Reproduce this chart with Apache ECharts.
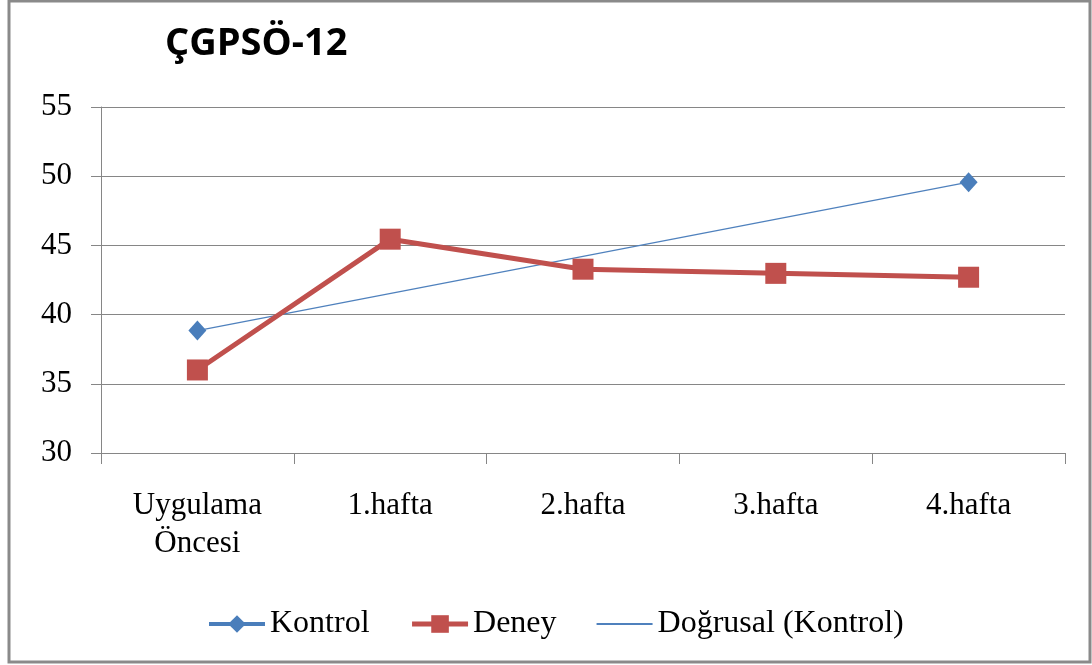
<!DOCTYPE html>
<html>
<head>
<meta charset="utf-8">
<script src="https://cdn.jsdelivr.net/npm/echarts@6/dist/echarts.min.js"></script>
<style>
  html, body { margin: 0; padding: 0; background: #fff; }
  #chart { width: 1092px; height: 665px; }
</style>
</head>
<body>
<div id="chart"></div>
<script>
const categories = ["Uygulama\nÖncesi", "1.hafta", "2.hafta", "3.hafta", "4.hafta"];
const kontrol = [38.85, null, null, null, 49.57];
const deney = [36.0, 45.45, 43.28, 42.98, 42.7];
const yTicks = { min: 30, max: 55, interval: 5 };

const serif = "'Liberation Serif', 'DejaVu Serif', serif";
const gridColor = "#868686";
const blue = "#4A7EBB";
const red = "#C0504D";
const trendBlue = "#4F81BD";

const chart = echarts.init(document.getElementById("chart"));

const option = {
  animation: false,
  backgroundColor: "#fff",
  title: {
    text: "ÇGPSÖ-12",
    left: 160,
    top: 20,
    textStyle: {
      fontFamily: "'Open Sans', 'Noto Sans', sans-serif",
      fontWeight: "bold",
      fontSize: 38,
      color: "#000"
    }
  },
  graphic: [
    {
      type: "rect",
      shape: { x: 9, y: 1, width: 1081, height: 661 },
      style: { fill: "none", stroke: "#8a8a8a", lineWidth: 3 },
      silent: true
    }
  ],
  legend: {
    left: 202,
    top: 603,
    itemWidth: 56,
    itemHeight: 22,
    itemGap: 40,
    textStyle: { fontFamily: serif, fontSize: 32, color: "#000" },
    data: [
      { name: "Kontrol", lineStyle: { width: 4 } },
      { name: "Deney", lineStyle: { width: 5 } },
      {
        name: "Doğrusal (Kontrol)",
        icon: "path://M0,10 L56,10 L56,12 L0,12 Z",
        itemStyle: { color: trendBlue }
      }
    ]
  },
  grid: {
    left: 101,
    right: 27,
    top: 107,
    bottom: 212,
    containLabel: false
  },
  xAxis: {
    type: "category",
    data: categories,
    boundaryGap: true,
    axisLine: { lineStyle: { color: gridColor, width: 1 } },
    axisTick: { show: true, length: 11, lineStyle: { color: gridColor } },
    axisLabel: {
      margin: 34,
      fontFamily: serif,
      fontSize: 31,
      lineHeight: 38,
      color: "#000"
    }
  },
  yAxis: {
    type: "value",
    min: yTicks.min,
    max: yTicks.max,
    interval: yTicks.interval,
    axisLine: { show: true, lineStyle: { color: gridColor, width: 1 } },
    axisTick: { show: true, length: 10, lineStyle: { color: gridColor } },
    splitLine: { lineStyle: { color: gridColor, width: 1 } },
    axisLabel: {
      margin: 29,
      fontFamily: serif,
      fontSize: 31,
      color: "#000"
    }
  },
  series: [
    {
      name: "Doğrusal (Kontrol)",
      type: "line",
      data: kontrol,
      connectNulls: true,
      symbol: "none",
      z: 1,
      lineStyle: { color: trendBlue, width: 1.3 },
      itemStyle: { color: trendBlue }
    },
    {
      name: "Deney",
      type: "line",
      data: deney,
      symbol: "rect",
      symbolSize: 21,
      z: 2,
      lineStyle: { color: red, width: 5 },
      itemStyle: { color: red }
    },
    {
      name: "Kontrol",
      type: "line",
      data: kontrol,
      connectNulls: false,
      symbol: "diamond",
      symbolSize: [18, 20],
      showSymbol: true,
      z: 3,
      lineStyle: { color: blue, width: 4 },
      itemStyle: { color: blue }
    }
  ]
};

chart.setOption(option);
</script>
</body>
</html>
